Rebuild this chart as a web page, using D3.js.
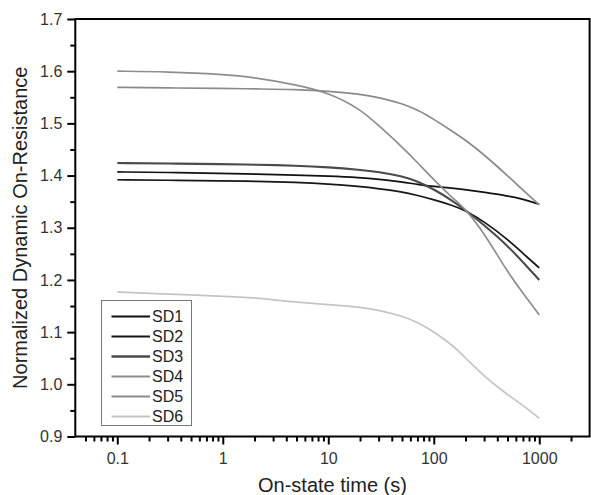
<!DOCTYPE html>
<html>
<head>
<meta charset="utf-8">
<script src="https://cdn.jsdelivr.net/npm/d3@7"></script>
<style>
  html, body { margin: 0; padding: 0; background: #fff; }
  svg { display: block; font-family: "Liberation Sans", Arial, sans-serif; }
</style>
</head>
<body>
<svg id="chart" width="591" height="495"></svg>
<script>
// ---- data ----
const times = [0.1, 0.3, 1, 2, 5, 10, 20, 30, 50, 70, 100, 150, 200, 300, 500, 700, 1000];
const seriesNames = ["SD1", "SD2", "SD3", "SD4", "SD5", "SD6"];
const sd1 = [1.407, 1.406, 1.404, 1.403, 1.401, 1.399, 1.396, 1.393, 1.388, 1.383, 1.379, 1.376, 1.373, 1.368, 1.361, 1.355, 1.345];
const sd2 = [1.392, 1.391, 1.390, 1.389, 1.387, 1.384, 1.379, 1.375, 1.369, 1.362, 1.354, 1.343, 1.333, 1.312, 1.278, 1.251, 1.223];
const sd3 = [1.424, 1.423, 1.422, 1.421, 1.419, 1.416, 1.411, 1.407, 1.399, 1.389, 1.374, 1.352, 1.334, 1.305, 1.266, 1.234, 1.200];
const sd4 = [1.600, 1.599, 1.594, 1.588, 1.574, 1.559, 1.528, 1.496, 1.455, 1.425, 1.392, 1.357, 1.336, 1.290, 1.215, 1.175, 1.133];
const sd5 = [1.569, 1.568, 1.567, 1.566, 1.565, 1.562, 1.556, 1.550, 1.538, 1.526, 1.508, 1.485, 1.468, 1.440, 1.400, 1.372, 1.344];
const sd6 = [1.177, 1.173, 1.169, 1.166, 1.157, 1.153, 1.148, 1.142, 1.131, 1.119, 1.101, 1.075, 1.051, 1.015, 0.980, 0.960, 0.935];
const xMajorTicks = [0.1, 1, 10, 100, 1000];
const xTickLabels = ["0.1", "1", "10", "100", "1000"];
const yMajorTicks = [0.9, 1.0, 1.1, 1.2, 1.3, 1.4, 1.5, 1.6, 1.7];
const yTickLabels = ["0.9", "1.0", "1.1", "1.2", "1.3", "1.4", "1.5", "1.6", "1.7"];
const yMinorTicks = [0.95, 1.05, 1.15, 1.25, 1.35, 1.45, 1.55, 1.65];
const xTitle = "On-state time (s)";
const yTitle = "Normalized Dynamic On-Resistance";

// ---- styles ----
const colors = ["#111111", "#161616", "#4a4a4a", "#8e8e8e", "#8a8a8a", "#c4c4c4"];
const widths = [1.7, 1.7, 2.1, 1.7, 1.7, 1.7];

const allSeries = [sd1, sd2, sd3, sd4, sd5, sd6].map((vals, i) => ({
  name: seriesNames[i],
  points: times.map((t, j) => ({ t: t, v: vals[j] }))
}));

const pLeft = 75.3, pRight = 589.6, pTop = 19, pBottom = 436.5;
const svg = d3.select("#chart");

const x = d3.scaleLog().domain([0.04, 3000]).range([pLeft, pRight]);
const y = d3.scaleLinear().domain([0.9, 1.7]).range([pBottom, pTop]);

// minor x ticks
const xMinor = [];
for (let e = -2; e <= 3; e++) {
  for (let m = 2; m <= 9; m++) {
    const v = m * Math.pow(10, e);
    if (v > 0.04 && v < 3000) xMinor.push(+v.toPrecision(3));
  }
}

const textColor = "#333";

// x axis major
const gx = svg.append("g").attr("transform", `translate(0,${pBottom})`)
  .call(d3.axisBottom(x).tickValues(xMajorTicks)
    .tickFormat((d, i) => xTickLabels[i]).tickSize(8).tickPadding(8).tickSizeOuter(0));
gx.select(".domain").remove();
gx.selectAll(".tick line").attr("stroke", "#000").attr("stroke-width", 2);
gx.selectAll(".tick text").attr("font-size", 16).attr("fill", textColor)
  .attr("font-family", "'Liberation Sans', Arial, sans-serif");

const gxm = svg.append("g").attr("transform", `translate(0,${pBottom})`)
  .call(d3.axisBottom(x).tickValues(xMinor).tickFormat("").tickSize(5).tickSizeOuter(0));
gxm.select(".domain").remove();
gxm.selectAll(".tick line").attr("stroke", "#000").attr("stroke-width", 2);

// y axis major
const gy = svg.append("g").attr("transform", `translate(${pLeft},0)`)
  .call(d3.axisLeft(y).tickValues(yMajorTicks)
    .tickFormat((d, i) => yTickLabels[i]).tickSize(8).tickPadding(5).tickSizeOuter(0));
gy.select(".domain").remove();
gy.selectAll(".tick line").attr("stroke", "#000").attr("stroke-width", 2);
gy.selectAll(".tick text").attr("font-size", 16).attr("fill", textColor)
  .attr("font-family", "'Liberation Sans', Arial, sans-serif");

const gym = svg.append("g").attr("transform", `translate(${pLeft},0)`)
  .call(d3.axisLeft(y).tickValues(yMinorTicks).tickFormat("").tickSize(5).tickSizeOuter(0));
gym.select(".domain").remove();
gym.selectAll(".tick line").attr("stroke", "#000").attr("stroke-width", 2);

// series lines
const line = d3.line().x(d => x(d.t)).y(d => y(d.v)).curve(d3.curveBasis);
svg.append("g").selectAll("path").data(allSeries).join("path")
  .attr("d", d => line(d.points))
  .attr("fill", "none")
  .attr("stroke", (d, i) => colors[i])
  .attr("stroke-width", (d, i) => widths[i])
  .attr("stroke-linejoin", "round");

// frame
svg.append("rect")
  .attr("x", pLeft).attr("y", pTop)
  .attr("width", pRight - pLeft).attr("height", pBottom - pTop)
  .attr("fill", "none").attr("stroke", "#000").attr("stroke-width", 2);

// legend
const lg = svg.append("g");
lg.append("rect").attr("x", 101.5).attr("y", 300.5).attr("width", 90).attr("height", 125)
  .attr("fill", "#fff").attr("stroke", "#777").attr("stroke-width", 1);
allSeries.forEach((s, i) => {
  const yy = 316.5 + i * 20;
  lg.append("line").attr("x1", 111.5).attr("x2", 150).attr("y1", yy).attr("y2", yy)
    .attr("stroke", colors[i]).attr("stroke-width", widths[i] + 0.4);
  lg.append("text").attr("x", 152).attr("y", yy).attr("dy", "0.36em")
    .attr("font-size", 16).attr("fill", "#222").text(s.name);
});

// axis titles
svg.append("text").attr("x", (pLeft + pRight) / 2).attr("y", 492)
  .attr("text-anchor", "middle").attr("font-size", 20).attr("fill", "#222").text(xTitle);
svg.append("text").attr("transform", `translate(27,${(pTop + pBottom) / 2}) rotate(-90)`)
  .attr("text-anchor", "middle").attr("font-size", 20).attr("fill", "#222").text(yTitle);
</script>
</body>
</html>
